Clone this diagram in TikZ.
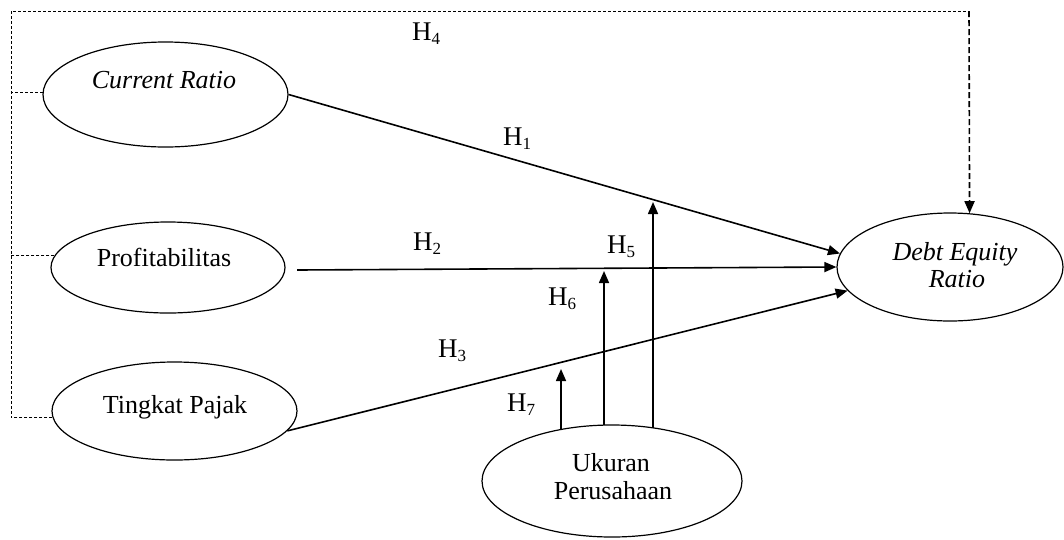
\documentclass[tikz,border=0pt]{standalone}
\usepackage{fontspec}
\setmainfont{Liberation Serif}
\usetikzlibrary{shapes.geometric,arrows.meta}
\newcommand{\hyp}[1]{H\raisebox{-4.5pt}{\fontsize{17}{17}\selectfont #1}}
\begin{document}
\begin{tikzpicture}[x=1pt,y=-1pt,
  var/.style={draw, line width=1.2pt, ellipse, inner sep=0pt},
  conn/.style={line width=1.6pt, -{Triangle[length=12pt,width=10pt]}},
  frame/.style={line width=0.9pt, dash pattern=on 3pt off 2pt},
  frameArrow/.style={line width=1.6pt, dash pattern=on 6pt off 3pt, -{Triangle[length=12pt,width=10pt]}},
  lbl/.style={font=\fontsize{26}{30}\selectfont, inner sep=0pt, anchor=base},
  ilbl/.style={lbl, font=\fontsize{26}{30}\selectfont\itshape},
  hl/.style={font=\fontsize{27}{27}\selectfont, inner sep=0pt, anchor=base west}]
\useasboundingbox (0,0) rectangle (1064,539);
% ellipses
\node[var, minimum width=245pt, minimum height=105pt] (cr) at (165.5,94.5) {};
\node[var, minimum width=234pt, minimum height=91pt] (pr) at (168,267.5) {};
\node[var, minimum width=245pt, minimum height=98pt] (tp) at (174.5,411) {};
\node[var, minimum width=226pt, minimum height=108pt] (der) at (950,267) {};
\node[var, minimum width=260pt, minimum height=112pt] (uk) at (612,481) {};
% texts
\node[ilbl] (crt) at (164,88) {Current Ratio};
\node[lbl] (prt) at (164,266) {Profitabilitas};
\node[lbl] (tpt) at (175,413) {Tingkat Pajak};
\node[ilbl] (dert1) at (955,260) {Debt Equity};
\node[ilbl] (dert2) at (957,287) {Ratio};
\node[lbl] (ukt1) at (611,471) {Ukuran};
\node[lbl] (ukt2) at (613,499) {Perusahaan};
% coordinates
\coordinate (tl) at (11,11);
\coordinate (tr) at (969,11);
\coordinate (prs) at (297,270);
\coordinate (h5s) at (653,428);
\coordinate (h5e) at (653,202);
\coordinate (h6s) at (604,425);
\coordinate (h6e) at (604,271);
\coordinate (h7s) at (561,430);
\coordinate (h7e) at (561,369);
% dashed frame
\draw[frame] (tp.183) -- (tp.183 -| tl) -- (tl) -- (tr);
\draw[frame] (cr.179) -- (cr.179 -| tl);
\draw[frame] (pr.174) -- (pr.174 -| tl);
\draw[frameArrow] (tr) -- (der.70);
% main paths
\draw[conn] (cr.east) -- (der.173);
\draw[conn] (prs) -- (der.180);
\draw[conn] (tp.-10) -- (der.193);
% moderation
\draw[conn] (h5s) -- (h5e);
\draw[conn] (h6s) -- (h6e);
\draw[conn] (h7s) -- (h7e);
% labels
\node[hl] (l4) at (412,40) {\hyp{4}};
\node[hl] (l1) at (503,145) {\hyp{1}};
\node[hl] (l2) at (413,250) {\hyp{2}};
\node[hl] (l3) at (438,357) {\hyp{3}};
\node[hl] (l5) at (607,253) {\hyp{5}};
\node[hl] (l6) at (548,305) {\hyp{6}};
\node[hl] (l7) at (507,411) {\hyp{7}};
\end{tikzpicture}
\end{document}
